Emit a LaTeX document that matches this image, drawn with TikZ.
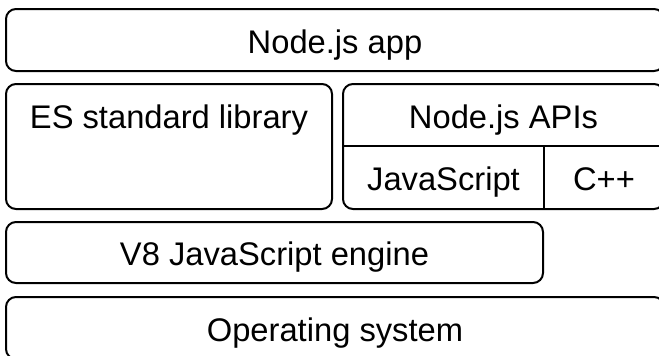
\documentclass[tikz,border=0pt]{standalone}
\usepackage{fontspec}
\setmainfont{Liberation Sans}
\begin{document}
\begin{tikzpicture}[x=1pt,y=-1pt,
  layer/.style={draw=black, line width=2pt, rounded corners=10pt, rectangle, inner sep=0pt,
    font=\fontsize{32.7}{39}\selectfont, text height=26.4pt, text depth=0pt},
  lbl/.style={inner sep=0pt, font=\fontsize{32.7}{39}\selectfont, text height=26.4pt, text depth=0pt},
  sep/.style={line width=2pt}]
\useasboundingbox (0,0) rectangle (659,356);
\clip (0,0) rectangle (659,356);
\node[layer, minimum width=658pt, minimum height=62pt] (app) at (335,40) {Node.js app};
\node[layer, minimum width=326pt, minimum height=125pt] (es) at (169,146.5) {};
\node[lbl] (eslbl) at (169,115) {ES standard library};
\node[layer, minimum width=321pt, minimum height=125pt] (api) at (503.5,146.5) {};
\node[lbl] (apilbl) at (503.5,115) {Node.js APIs};
\coordinate (hl) at (343,146);
\coordinate (hr) at (664,146);
\coordinate (vt) at (544,146);
\coordinate (vb) at (544,209);
\draw[sep] (hl) -- (hr);
\draw[sep] (vt) -- (vb);
\node[lbl] (js) at (443.5,177.5) {JavaScript};
\node[lbl] (cpp) at (604,177.5) {C++};
\node[layer, minimum width=537pt, minimum height=61pt] (v8) at (274.5,252.5) {V8 JavaScript engine};
\node[layer, minimum width=658pt, minimum height=62pt] (os) at (335,328) {Operating system};
\end{tikzpicture}
\end{document}
